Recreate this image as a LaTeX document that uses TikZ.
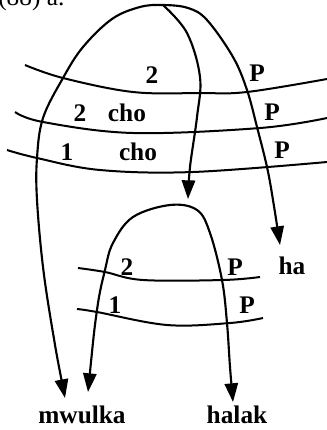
\documentclass[tikz,border=0pt]{standalone}
\usepackage{fontspec}
\setmainfont{Liberation Serif}
\usetikzlibrary{arrows.meta}

\begin{document}
\begin{tikzpicture}[x=0.75pt, y=-0.75pt,
    lab/.style={font=\fontsize{19}{22}\selectfont\bfseries, inner sep=0pt},
    arr/.style={line width=1.6pt, -{Triangle[length=14pt, width=10pt]}},
    arrs/.style={line width=1.6pt, {Triangle[length=14pt, width=10pt]}-{Triangle[length=14pt, width=10pt]}},
    tier/.style={line width=1.5pt}]
  \useasboundingbox (0,0) rectangle (327,430);

  % Heading, cut off at the top edge
  \node[font=\fontsize{19}{22}\selectfont, anchor=west, inner sep=0pt] (head) at (-2,-1) {(88) a.};

  % Upper tiers
  \draw[tier] plot[smooth, tension=0.6] coordinates {(25,65) (63,78) (133,92) (200,93) (247,92) (327,79)};
  \draw[tier] plot[smooth, tension=0.6] coordinates {(15,112) (43,122) (133,133) (260,128) (327,118)};
  \draw[tier] plot[smooth, tension=0.6] coordinates {(7,150) (37,158) (100,170) (193,172) (327,162)};

  % Lower tiers
  \draw[tier] plot[smooth, tension=0.6] coordinates {(78,268) (105,272) (143,280) (223,280) (260,277)};
  \draw[tier] plot[smooth, tension=0.6] coordinates {(77,309) (97,312) (167,325) (230,323) (263,318)};

  % Tier labels
  \node[lab] (t2)   at (152,75)  {2};
  \node[lab] (tP1)  at (257,73)  {P};
  \node[lab] (s2)   at (80,113)  {2};
  \node[lab] (cho1) at (127,113) {cho};
  \node[lab] (tP2)  at (272,112) {P};
  \node[lab] (s1)   at (67,152)  {1};
  \node[lab] (cho2) at (138,152) {cho};
  \node[lab] (tP3)  at (282,150) {P};
  \node[lab] (u2)   at (127,267) {2};
  \node[lab] (uP1)  at (235,267) {P};
  \node[lab] (u1)   at (115,305) {1};
  \node[lab] (uP2)  at (247,305) {P};

  % Words
  \node[lab] (ha)     at (292,266) {ha};
  \node[lab] (mwulka) at (82,415)  {mwulka};
  \node[lab] (halak)  at (237,415) {halak};

  \coordinate (top)   at (163,5);
  \coordinate (inner) at (170,205);

  % Outer arch (to mwulka and ha) and middle branch
  \draw[arrs] plot[smooth, tension=0.6] coordinates {(65,398) (53,333) (43,267) (37,200) (37,158) (43,118) (63,78) (83,47) (112,19) (140,7) (top) (188,8) (207,20) (233,57) (247,90) (257,127) (267,167) (273,200) (280,245)};
  \draw[arr] plot[smooth, tension=0.6] coordinates {(top) (187,33) (200,77) (197,117) (190,167) (188,199)};

  % Inner arch (to mwulka and halak)
  \draw[arrs] plot[smooth, tension=0.6] coordinates {(88,392) (97,310) (105,270) (113,243) (133,217) (inner) (197,210) (210,233) (222,280) (227,323) (230,367) (233,402)};
\end{tikzpicture}
\end{document}
